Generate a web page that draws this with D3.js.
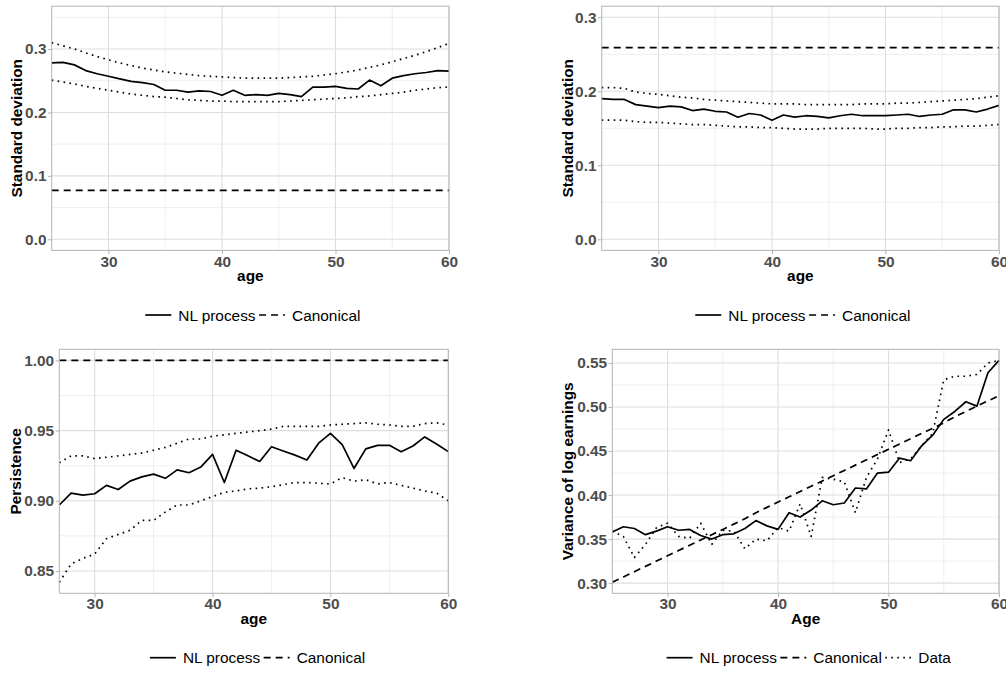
<!DOCTYPE html>
<html>
<head>
<meta charset="utf-8">
<script src="https://cdn.jsdelivr.net/npm/d3@7"></script>
<style>
  html, body { margin: 0; padding: 0; background: #fff; }
  svg { display: block; font-family: "Liberation Sans", Arial, Helvetica, sans-serif; }
</style>
</head>
<body>
<svg id="fig" width="1006" height="673"></svg>
<script>
// Ages on the horizontal axis
const ages = [25,26,27,28,29,30,31,32,33,34,35,36,37,38,39,40,41,42,43,44,45,46,47,48,49,50,51,52,53,54,55,56,57,58,59,60];
const agesPersist = [27,28,29,30,31,32,33,34,35,36,37,38,39,40,41,42,43,44,45,46,47,48,49,50,51,52,53,54,55,56,57,58,59,60];

// Standard deviation of the persistent component (top left)
const sdPersistNL = [0.278,0.279,0.275,0.266,0.261,0.257,0.253,0.249,0.247,0.244,0.235,0.235,0.232,0.234,0.233,0.227,0.235,0.227,0.228,0.227,0.230,0.228,0.225,0.240,0.240,0.241,0.238,0.237,0.251,0.242,0.254,0.258,0.261,0.263,0.266,0.265];
const sdPersistHi = [0.310,0.305,0.300,0.294,0.288,0.283,0.278,0.274,0.270,0.267,0.264,0.262,0.260,0.258,0.257,0.256,0.255,0.254,0.254,0.254,0.254,0.255,0.256,0.257,0.259,0.261,0.264,0.267,0.271,0.275,0.280,0.285,0.290,0.296,0.302,0.309];
const sdPersistLo = [0.251,0.248,0.245,0.241,0.238,0.235,0.232,0.229,0.227,0.225,0.224,0.222,0.220,0.219,0.218,0.218,0.217,0.217,0.217,0.217,0.217,0.218,0.219,0.220,0.221,0.222,0.223,0.225,0.226,0.228,0.230,0.232,0.235,0.237,0.239,0.240];
const sdPersistCanonical = 0.077;

// Standard deviation of the transitory component (top right)
const sdTransNL = [0.190,0.189,0.189,0.182,0.180,0.178,0.180,0.179,0.174,0.176,0.173,0.172,0.165,0.170,0.168,0.161,0.168,0.165,0.167,0.166,0.164,0.167,0.169,0.167,0.167,0.167,0.168,0.169,0.166,0.168,0.169,0.175,0.175,0.172,0.176,0.181];
const sdTransHi = [0.205,0.205,0.204,0.199,0.197,0.196,0.194,0.192,0.191,0.189,0.188,0.187,0.186,0.185,0.184,0.183,0.183,0.183,0.182,0.182,0.182,0.182,0.182,0.183,0.183,0.183,0.184,0.184,0.185,0.186,0.187,0.188,0.189,0.190,0.192,0.194];
const sdTransLo = [0.161,0.161,0.161,0.159,0.158,0.158,0.157,0.156,0.155,0.155,0.154,0.153,0.152,0.152,0.151,0.151,0.150,0.149,0.149,0.149,0.150,0.150,0.150,0.150,0.149,0.149,0.150,0.150,0.151,0.151,0.152,0.152,0.153,0.153,0.154,0.155];
const sdTransCanonical = 0.259;

// Persistence (bottom left)
const persistNL = [0.897,0.9055,0.904,0.905,0.911,0.908,0.914,0.917,0.919,0.916,0.922,0.920,0.924,0.933,0.913,0.936,0.932,0.928,0.9385,0.9355,0.9325,0.929,0.941,0.948,0.940,0.923,0.937,0.9395,0.9395,0.935,0.939,0.9455,0.9405,0.935];
const persistHi = [0.927,0.932,0.932,0.930,0.931,0.932,0.933,0.934,0.936,0.938,0.941,0.944,0.944,0.946,0.947,0.948,0.949,0.950,0.951,0.953,0.953,0.953,0.953,0.954,0.9545,0.955,0.9555,0.9545,0.954,0.953,0.953,0.955,0.9555,0.954];
const persistLo = [0.842,0.855,0.859,0.862,0.873,0.876,0.879,0.886,0.886,0.892,0.897,0.897,0.900,0.903,0.906,0.907,0.9085,0.909,0.910,0.9115,0.913,0.913,0.9125,0.912,0.9165,0.914,0.915,0.912,0.913,0.911,0.909,0.907,0.9055,0.900];
const persistCanonical = 1.0;

// Variance of log earnings by age (bottom right)
const varNL = [0.358,0.364,0.362,0.355,0.359,0.364,0.360,0.361,0.354,0.350,0.355,0.356,0.362,0.371,0.365,0.361,0.380,0.375,0.383,0.3935,0.389,0.391,0.408,0.407,0.425,0.426,0.442,0.439,0.456,0.468,0.486,0.495,0.506,0.501,0.539,0.553];
const varCanonical = [0.301,0.307,0.313,0.319,0.325,0.331,0.337,0.343,0.349,0.355,0.361,0.367,0.373,0.380,0.386,0.392,0.398,0.404,0.410,0.416,0.422,0.428,0.434,0.440,0.446,0.452,0.458,0.464,0.470,0.476,0.482,0.489,0.495,0.501,0.507,0.513];
const varData = [0.359,0.353,0.329,0.344,0.363,0.368,0.353,0.351,0.368,0.344,0.360,0.359,0.339,0.350,0.348,0.363,0.359,0.390,0.353,0.420,0.418,0.415,0.380,0.420,0.441,0.474,0.437,0.441,0.456,0.470,0.531,0.535,0.535,0.537,0.550,0.553];

// Axis labels and legend entries
const xTicks = [30, 40, 50, 60];
const legendTwo = ["NL process", "Canonical"];
const legendThree = ["NL process", "Canonical", "Data"];

// ---------------------------------------------------------------------------
const svg = d3.select("#fig");
const BLACK = "#000";
const LINE_W = 1.7;
const styles = {
  solid: null,
  dashed: "7,5",
  dotted: "1.6,4.4"
};

function expand(lo, hi, f = 0.05) {
  const r = hi - lo;
  return [lo - r * f, hi + r * f];
}

const panels = [
  {
    box: { left: 51.7, right: 449, top: 6.2, bottom: 250.4 },
    xDomain: [25, 60],
    yDomain: expand(0, 0.35),
    yMajor: [0, 0.1, 0.2, 0.3], yMinor: [0.05, 0.15, 0.25, 0.35],
    yFmt: d3.format(".1f"),
    yTitle: "Standard deviation", yTitleX: 22, xTitle: "age",
    series: [
      { x: ages, y: sdPersistNL, style: "solid" },
      { x: ages, y: sdPersistHi, style: "dotted" },
      { x: ages, y: sdPersistLo, style: "dotted" },
      { x: ages, y: ages.map(() => sdPersistCanonical), style: "dashed" }
    ],
    legend: legendTwo, legendCx: 252.9, legendY: 315
  },
  {
    box: { left: 601.7, right: 999, top: 6.2, bottom: 250.4 },
    xDomain: [25, 60],
    yDomain: expand(0, 0.3),
    yMajor: [0, 0.1, 0.2, 0.3], yMinor: [0.05, 0.15, 0.25],
    yFmt: d3.format(".1f"),
    yTitle: "Standard deviation", yTitleX: 572.5, xTitle: "age",
    series: [
      { x: ages, y: sdTransNL, style: "solid" },
      { x: ages, y: sdTransHi, style: "dotted" },
      { x: ages, y: sdTransLo, style: "dotted" },
      { x: ages, y: ages.map(() => sdTransCanonical), style: "dashed" }
    ],
    legend: legendTwo, legendCx: 802.9, legendY: 315
  },
  {
    box: { left: 59.3, right: 448.3, top: 349.3, bottom: 593.3 },
    xDomain: [27, 60],
    yDomain: expand(d3.min(persistLo), persistCanonical),
    yMajor: [0.85, 0.90, 0.95, 1.00], yMinor: [0.875, 0.925, 0.975],
    yFmt: d3.format(".2f"),
    yTitle: "Persistence", yTitleX: 21, xTitle: "age",
    series: [
      { x: agesPersist, y: persistNL, style: "solid" },
      { x: agesPersist, y: persistHi, style: "dotted" },
      { x: agesPersist, y: persistLo, style: "dotted" },
      { x: agesPersist, y: agesPersist.map(() => persistCanonical), style: "dashed" }
    ],
    legend: legendTwo, legendCx: 257.5, legendY: 657.7
  },
  {
    box: { left: 612.3, right: 999, top: 349.3, bottom: 593.3 },
    xDomain: [25, 60],
    yDomain: expand(d3.min(varCanonical), d3.max(varNL.concat(varData))),
    yMajor: [0.30, 0.35, 0.40, 0.45, 0.50, 0.55], yMinor: [0.325, 0.375, 0.425, 0.475, 0.525],
    yFmt: d3.format(".2f"),
    yTitle: "Variance of log earnings", yTitleX: 572.5, xTitle: "Age",
    series: [
      { x: ages, y: varNL, style: "solid" },
      { x: ages, y: varCanonical, style: "dashed" },
      { x: ages, y: varData, style: "dotted" }
    ],
    legend: legendThree, legendCx: 808.7, legendY: 657.7
  }
];

const legendStyles = ["solid", "dashed", "dotted"];

panels.forEach(p => {
  const b = p.box;
  const x = d3.scaleLinear().domain(p.xDomain).range([b.left, b.right]);
  const y = d3.scaleLinear().domain(p.yDomain).range([b.bottom, b.top]);
  const g = svg.append("g");

  const xMinor = [25, 35, 45, 55].filter(v => v > p.xDomain[0] && v < p.xDomain[1]);

  // minor grid
  g.append("g").selectAll("line").data(p.yMinor.filter(v => y(v) >= b.top)).join("line")
    .attr("x1", b.left).attr("x2", b.right)
    .attr("y1", d => y(d)).attr("y2", d => y(d))
    .attr("stroke", "#e4e4e4").attr("stroke-width", 0.6);
  g.append("g").selectAll("line").data(xMinor).join("line")
    .attr("y1", b.top).attr("y2", b.bottom)
    .attr("x1", d => x(d)).attr("x2", d => x(d))
    .attr("stroke", "#e4e4e4").attr("stroke-width", 0.6);
  // major grid
  g.append("g").selectAll("line").data(p.yMajor).join("line")
    .attr("x1", b.left).attr("x2", b.right)
    .attr("y1", d => y(d)).attr("y2", d => y(d))
    .attr("stroke", "#dedede").attr("stroke-width", 1.1);
  g.append("g").selectAll("line").data(xTicks).join("line")
    .attr("y1", b.top).attr("y2", b.bottom)
    .attr("x1", d => x(d)).attr("x2", d => x(d))
    .attr("stroke", "#dedede").attr("stroke-width", 1.1);

  // series
  const line = d3.line().x(d => x(d[0])).y(d => y(d[1]));
  p.series.forEach(s => {
    const pts = s.x.map((a, i) => [a, s.y[i]]);
    g.append("path").datum(pts).attr("d", line)
      .attr("fill", "none").attr("stroke", BLACK)
      .attr("stroke-width", LINE_W)
      .attr("stroke-linejoin", "round")
      .attr("stroke-dasharray", styles[s.style]);
  });

  // panel border
  g.append("rect")
    .attr("x", b.left).attr("y", b.top)
    .attr("width", b.right - b.left).attr("height", b.bottom - b.top)
    .attr("fill", "none").attr("stroke", "#b3b3b3").attr("stroke-width", 1);

  // axes
  const xAxis = d3.axisBottom(x).tickValues(xTicks).tickFormat(d3.format("d"))
    .tickSize(3.7).tickPadding(1.5);
  const yAxis = d3.axisLeft(y).tickValues(p.yMajor).tickFormat(p.yFmt)
    .tickSize(3.7).tickPadding(1.5);
  [[xAxis, `translate(0,${b.bottom})`], [yAxis, `translate(${b.left},0)`]].forEach(([ax, tr]) => {
    const a = g.append("g").attr("transform", tr).call(ax);
    a.select(".domain").remove();
    a.selectAll(".tick line").attr("stroke", "#b3b3b3");
    a.selectAll(".tick text")
      .attr("fill", "#4d4d4d").attr("font-size", 15.4).attr("font-weight", "bold")
      .attr("font-family", "Liberation Sans, Arial, sans-serif");
  });

  // axis titles
  g.append("text")
    .attr("x", (b.left + b.right) / 2).attr("y", b.bottom + 30.5)
    .attr("text-anchor", "middle").attr("font-size", 15.4).attr("font-weight", "bold")
    .attr("fill", BLACK).text(p.xTitle);
  g.append("text")
    .attr("transform", `translate(${p.yTitleX},${(b.top + b.bottom) / 2}) rotate(-90)`)
    .attr("text-anchor", "middle").attr("font-size", 15.4).attr("font-weight", "bold")
    .attr("fill", BLACK).text(p.yTitle);

  // legend
  const lg = g.append("g");
  let cx = 0;
  const keyW = 26, keyGap = 7, itemGap = 3.5;
  p.legend.forEach((label, i) => {
    lg.append("line")
      .attr("x1", cx).attr("x2", cx + keyW).attr("y1", 0).attr("y2", 0)
      .attr("stroke", BLACK).attr("stroke-width", LINE_W)
      .attr("stroke-dasharray", styles[legendStyles[i]]);
    cx += keyW + keyGap;
    const t = lg.append("text").attr("x", cx).attr("y", 0).attr("dy", "0.36em")
      .attr("font-size", 15.4).attr("fill", BLACK).text(label);
    cx += t.node().getComputedTextLength() + itemGap;
  });
  cx -= itemGap;
  lg.attr("transform", `translate(${p.legendCx - cx / 2},${p.legendY})`);
});
</script>
</body>
</html>
